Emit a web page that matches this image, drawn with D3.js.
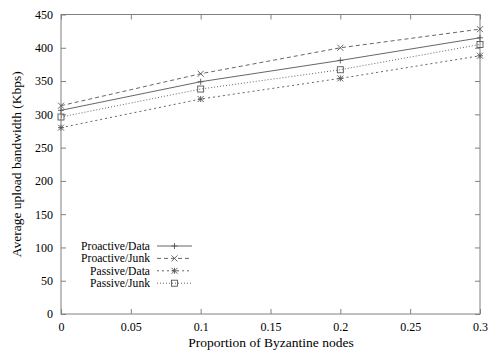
<!DOCTYPE html>
<html><head><meta charset="utf-8">
<script src="https://cdn.jsdelivr.net/npm/d3@7"></script>
<style>body{margin:0;background:#fff}svg{display:block}text{font-family:"Liberation Serif","Times New Roman",serif;fill:#000}</style>
</head><body>
<svg id="c" width="500" height="350"></svg>
<script>
const proportions = [0, 0.1, 0.2, 0.3];
const proactiveData = [306, 349, 381, 415];
const proactiveJunk = [313, 361, 400, 428];
const passiveData = [280, 323, 354, 388];
const passiveJunk = [296, 338, 367, 405];
const seriesNames = ["Proactive/Data", "Proactive/Junk", "Passive/Data", "Passive/Junk"];
const xTicks = [0, 0.05, 0.1, 0.15, 0.2, 0.25, 0.3];
const yTicks = [0, 50, 100, 150, 200, 250, 300, 350, 400, 450];

const series = [
  {name: seriesNames[0], values: proactiveData, dash: null, marker: "plus"},
  {name: seriesNames[1], values: proactiveJunk, dash: "4,3", marker: "cross"},
  {name: seriesNames[2], values: passiveData, dash: "2,3", marker: "star"},
  {name: seriesNames[3], values: passiveJunk, dash: "1,2", marker: "square"}
];

const svg = d3.select("#c");
const L = 61, R = 480, T = 14.5, B = 314;
const x = d3.scaleLinear().domain([0, 0.3]).range([L, R]);
const y = d3.scaleLinear().domain([0, 450]).range([B, T]);
const frame = "#808080", lineCol = "#555";

svg.append("rect").attr("x", L).attr("y", T).attr("width", R - L).attr("height", B - T)
  .attr("fill", "none").attr("stroke", frame).attr("stroke-width", 1);

const fmt = d => String(d);
const gx = svg.append("g").attr("transform", `translate(0,${B})`)
  .call(d3.axisBottom(x).tickValues(xTicks).tickFormat(fmt).tickSizeInner(-5).tickSizeOuter(0).tickPadding(8));
const gxt = svg.append("g").attr("transform", `translate(0,${T})`)
  .call(d3.axisTop(x).tickValues(xTicks).tickFormat("").tickSizeInner(-5).tickSizeOuter(0));
const gy = svg.append("g").attr("transform", `translate(${L},0)`)
  .call(d3.axisLeft(y).tickValues(yTicks).tickFormat(fmt).tickSizeInner(-5).tickSizeOuter(0).tickPadding(8));
const gyr = svg.append("g").attr("transform", `translate(${R},0)`)
  .call(d3.axisRight(y).tickValues(yTicks).tickFormat("").tickSizeInner(-5).tickSizeOuter(0));
[gx, gxt, gy, gyr].forEach(g => {
  g.select(".domain").remove();
  g.selectAll(".tick line").attr("stroke", frame);
  g.selectAll("text").style("font-family", '"Liberation Serif",serif').style("font-size", "12px").attr("fill", "#000");
});

svg.append("text").attr("x", (L + R) / 2 + 0.5).attr("y", 346.5).attr("text-anchor", "middle")
  .style("font-size", "13.5px").text("Proportion of Byzantine nodes");
svg.append("text").attr("transform", `translate(20.5,${(T + B) / 2}) rotate(-90)`).attr("text-anchor", "middle")
  .style("font-size", "13.5px").text("Average upload bandwidth (Kbps)");

function drawMarker(g, type, cx, cy) {
  const s = 3;
  if (type === "plus") {
    g.append("path").attr("d", `M${cx - s},${cy}H${cx + s}M${cx},${cy - s}V${cy + s}`);
  } else if (type === "cross") {
    g.append("path").attr("d", `M${cx - s},${cy - s}L${cx + s},${cy + s}M${cx - s},${cy + s}L${cx + s},${cy - s}`);
  } else if (type === "star") {
    g.append("path").attr("d", `M${cx - s},${cy}H${cx + s}M${cx},${cy - s}V${cy + s}M${cx - s},${cy - s}L${cx + s},${cy + s}M${cx - s},${cy + s}L${cx + s},${cy - s}`);
  } else {
    g.append("rect").attr("x", cx - s).attr("y", cy - s).attr("width", 2 * s).attr("height", 2 * s).attr("fill", "none");
  }
}

const line = d3.line().x((d, i) => x(proportions[i])).y(d => y(d));
series.forEach(s => {
  const g = svg.append("g").attr("stroke", lineCol).attr("stroke-width", 0.9).attr("fill", "none");
  g.append("path").attr("d", line(s.values)).attr("stroke-dasharray", s.dash);
  const mg = g.append("g");
  s.values.forEach((v, i) => drawMarker(mg, s.marker, x(proportions[i]), y(v)));
});

series.forEach((s, i) => {
  const ly = 246 + i * 12.4;
  svg.append("text").attr("x", 150).attr("y", ly).attr("dy", "0.35em").attr("text-anchor", "end")
    .style("font-size", "11.6px").text(s.name);
  const g = svg.append("g").attr("stroke", lineCol).attr("stroke-width", 0.9).attr("fill", "none");
  g.append("line").attr("x1", 157).attr("x2", 192).attr("y1", ly).attr("y2", ly).attr("stroke-dasharray", s.dash);
  drawMarker(g, s.marker, 174.5, ly);
});
</script>
</body></html>
